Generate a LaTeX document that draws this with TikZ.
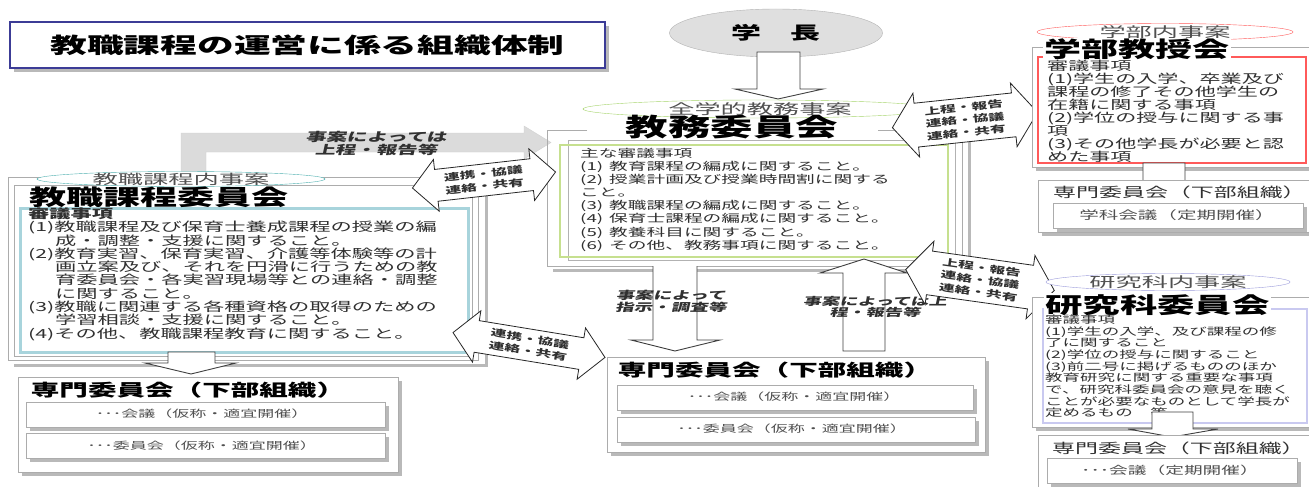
\documentclass[tikz,border=0pt]{standalone}
\usepackage{fontspec}
\usepackage{graphicx}
\usetikzlibrary{shapes.geometric,shadows}
\newfontfamily\jp[FakeStretch=1.7]{Noto Sans CJK JP}
\newfontfamily\jpi[FakeStretch=1.7,FakeSlant=0.22]{Noto Sans CJK JP}
\newcommand\jpfs[2]{\fontsize{#1}{#2}\selectfont}
\newcommand\wide[1]{\scalebox{1.1}[1]{#1}}
\definecolor{navyc}{HTML}{3C3C96}
\definecolor{grnc}{HTML}{A5D46A}
\definecolor{grnlt}{HTML}{C6E08F}
\definecolor{tealc}{HTML}{4FB0B0}
\definecolor{bluelt}{HTML}{A8D4DC}
\definecolor{redc}{HTML}{FF5A5A}
\definecolor{lavc}{HTML}{9B9BDB}
\definecolor{lavlt}{HTML}{C9C9F0}
\definecolor{txtc}{HTML}{303030}
\definecolor{subc}{HTML}{505050}
\newcommand\dblarrow[7]{%
  \begin{scope}[shift={(#1,#2)},rotate=#3]
    \draw[darr] (-#4,0) -- (-#4+#7,-#6) -- (-#4+#7,-#5) -- (#4-#7,-#5) -- (#4-#7,-#6) -- (#4,0)
      -- (#4-#7,#6) -- (#4-#7,#5) -- (-#4+#7,#5) -- (-#4+#7,#6) -- cycle;
  \end{scope}}
\tikzset{
  sbox/.style={draw=gray!65, fill=white, line width=0.8pt,
    drop shadow={shadow xshift=3.5pt, shadow yshift=-3.5pt, fill=gray!55, opacity=1}},
  pframe/.style={draw=gray!65, line width=0.8pt},
  shbar/.style={draw=gray!55, line width=3pt},
  barr/.style={draw=black!75, fill=white, line width=0.9pt},
  darr/.style={draw=black!85, fill=white, line width=0.8pt},
  txt/.style={inner sep=0pt, text=txtc},
  body/.style={txt, align=left, anchor=north west},
  ital/.style={txt, align=center, font=\jpi\bfseries\jpfs{11}{12}},
  atxt/.style={txt, align=center, font=\jp\bfseries\jpfs{9.3}{12.5}},
  subtxt/.style={inner sep=0pt, text=subc},
  elab/.style={inner sep=0pt, text=subc, font=\jp\jpfs{14}{15}, yshift=-0.5pt},
  head/.style={inner sep=1pt, text=black, font=\jp\bfseries\jpfs{21.8}{24}},
}
\begin{document}
\begin{tikzpicture}[x=1pt,y=-1pt]
\fill[white] (0,0) rectangle (1309,487);
\useasboundingbox (0,0) rectangle (1309,487);

% title
\node[draw=navyc, line width=1.3pt, fill=white,
  drop shadow={shadow xshift=4pt, shadow yshift=-4pt, fill=gray!55, opacity=1},
  minimum width=595pt, minimum height=46pt, inner sep=0pt,
  font=\jp\bfseries\jpfs{21.6}{24}] (title) at (307.5,45) {教職課程の運営に係る組織体制};

% president
\node[ellipse, draw=gray!60, fill=gray!25, minimum width=213pt, minimum height=48pt, inner sep=0pt,
  font=\jp\bfseries\jpfs{17.6}{20}] (pres) at (776,33) {学　長};
\draw[barr] (757,52) -- (800,52) -- (800,89) -- (823,89) -- (778,99) -- (735,89) -- (757,89) -- cycle;

% gray L arrow
\draw[draw=gray!35, fill=gray!28] (181,172) -- (181,133) -- (524,133) -- (524,126) -- (551,142.5)
  -- (524,159) -- (524,152) -- (206,152) -- (206,172) -- cycle;
\node[ital, font=\jpi\bfseries\jpfs{12}{13}] (lgl) at (376,143) {事案によっては\\上程・報告等};

% ===== centre committee =====
\node[ellipse, draw=grnc, fill=white, minimum width=354pt, minimum height=18pt, inner sep=0pt] (zen) at (760,109) {};
\node[elab] (zent) at (zen) {\wide{全学的教務事案}};
\draw[shbar] (969,136) -- (969,270) -- (553,270);
\draw[pframe] (587,130) -- (547,130) -- (547,266) -- (962,266) -- (962,130) -- (878,130);
\draw[draw=gray!60, line width=0.8pt, fill=white] (568,140) rectangle (955,260);
\draw[draw=grnlt, line width=2.5pt] (560,145) rectangle (948,257);
\node[txt, text=black, font=\jp\bfseries\jpfs{25}{27}] (kyomu) at (732,127) {教務委員会};
\node[body, font=\jp\jpfs{11}{13.1}] (kbody) at (580,148) {主な審議事項\\(1)\hspace{6pt}教育課程の編成に関すること。\\(2)\hspace{6pt}授業計画及び授業時間割に関する\\こと。\\(3)\hspace{6pt}教職課程の編成に関すること。\\(4)\hspace{6pt}保育士課程の編成に関すること。\\(5)\hspace{6pt}教養科目に関すること。\\(6)\hspace{6pt}その他、教務事項に関すること。};

% centre down / up arrows
\draw[barr] (653,266) -- (653,340) -- (631,340) -- (675,351) -- (720,340) -- (697,340) -- (697,266);
\node[ital, font=\jpi\bfseries\jpfs{10.9}{12}] (dlab) at (671,301) {事案によって\\指示・調査等};
\draw[barr] (843,351) -- (885,351) -- (885,273) -- (907,273) -- (864,259) -- (820,273) -- (843,273) -- cycle;
\node[ital, font=\jpi\bfseries\jpfs{10.7}{11.5}] (ulab) at (875,307) {事案によっては上\\程・報告等};

% centre bottom sub-committee
\draw[sbox] (607,357) rectangle (985,452);
\node[txt, text=black, font=\jp\bfseries\jpfs{16.8}{18}] (csub) at (775,370) {専門委員会（下部組織）};
\draw[sbox] (617,385) rectangle (973,410);
\node[subtxt, font=\jp\jpfs{10}{11}] (cs1) at (794,397) {･･･会議（仮称・適宜開催）};
\draw[sbox] (617,417) rectangle (975,442);
\node[subtxt, font=\jp\jpfs{10}{11}] (cs2) at (792,429) {･･･委員会（仮称・適宜開催）};

% ===== left committee =====
\draw[shbar] (486,183) -- (486,365) -- (14,365);
\draw[pframe, fill=white] (8,177) rectangle (478,360);
\draw[pframe] (14,185) rectangle (472,356);
\draw[draw=bluelt, line width=3pt] (20,208) rectangle (468,352);
\node[ellipse, draw=tealc, fill=white, minimum width=288pt, minimum height=15pt, inner sep=0pt] (kel) at (181,179) {};
\node[elab, font=\jp\jpfs{13.5}{15}] (kelt) at (kel) {\wide{教職課程内事案}};
\node[head] (kyoshoku) at (159,197) {教職課程委員会};
\node[body, font=\jp\jpfs{12.5}{13.3}] (lbody) at (28,207.5) {{\bfseries 審議事項}\\(1)教職課程及び保育士養成課程の授業の編\\\hspace*{27pt}成・調整・支援に関すること。\\(2)教育実習、保育実習、介護等体験等の計\\\hspace*{27pt}画立案及び、それを円滑に行うための教\\\hspace*{27pt}育委員会・各実習現場等との連絡・調整\\\hspace*{27pt}に関すること。\\(3)教職に関連する各種資格の取得のための\\\hspace*{27pt}学習相談・支援に関すること。\\(4)その他、教職課程教育に関すること。};

% left down arrow + sub-committee
\draw[barr] (168,352) -- (215,352) -- (215,363) -- (236,363) -- (191,374) -- (145,363) -- (168,363) -- cycle;
\draw[sbox] (18,377) rectangle (398,472);
\node[txt, text=black, font=\jp\bfseries\jpfs{16.8}{18}] (lsub) at (188,390) {専門委員会（下部組織）};
\draw[sbox] (26,402) rectangle (385,427);
\node[subtxt, font=\jp\jpfs{10}{11}] (ls1) at (202,414) {･･･会議（仮称・適宜開催）};
\draw[sbox] (26,433) rectangle (385,458);
\node[subtxt, font=\jp\jpfs{10}{11}] (ls2) at (202,446) {･･･委員会（仮称・適宜開催）};

% double arrows left
\dblarrow{484}{180}{6.4}{72}{16}{26}{24}
\node[atxt, rotate=6.4] (da1) at (484,180) {連携・協議\\連絡・共有};
\dblarrow{529}{345}{-9.3}{77}{16}{26}{24}
\node[atxt, rotate=-9.3] (da2) at (529,345) {連携・協議\\連絡・共有};

% double arrows right
\dblarrow{965}{120}{6}{73}{22}{32}{24}
\node[atxt, rotate=6] (da3) at (965,120) {上程・報告\\連絡・協議\\連絡・共有};
\dblarrow{980}{280}{-8}{75}{22}{32}{24}
\node[atxt, rotate=-8] (da4) at (980,280) {上程・報告\\連絡・協議\\連絡・共有};

% ===== faculty council (top right) =====
\node[ellipse, draw=redc, fill=white, minimum width=256pt, minimum height=17pt, inner sep=0pt] (gel) at (1165,32) {};
\node[elab] (gelt) at (gel) {\wide{学部内事案}};
\draw[sbox] (1032,47) rectangle (1314,167);
\draw[draw=redc, line width=1.8pt] (1038,57) rectangle (1306,163);
\node[head, fill=white] (gakubu) at (1137,49) {学部教授会};
\node[body, font=\jp\jpfs{12.4}{12.9}] (gbody) at (1047,59.5) {審議事項\\(1)学生の入学、卒業及び\\課程の修了その他学生の\\在籍に関する事項\\(2)学位の授与に関する事\\項\\(3)その他学長が必要と認\\めた事項};
\draw[barr] (1143,163) -- (1185,163) -- (1185,181) -- (1210,181) -- (1165,190) -- (1120,181) -- (1143,181) -- cycle;
\draw[sbox] (1038,180) rectangle (1316,232);
\node[txt, anchor=west, font=\jp\jpfs{13.5}{15}] (gsub) at (1053,192) {専門委員会（下部組織）};
\draw[sbox] (1053,203) rectangle (1303,228);
\node[subtxt, font=\jp\jpfs{11.5}{12}] (gs1) at (1177,215) {学科会議（定期開催）};

% ===== graduate school council (bottom right) =====
\node[ellipse, draw=lavc, fill=white, minimum width=244pt, minimum height=17pt, inner sep=0pt] (rel) at (1168,282) {};
\node[elab] (relt) at (rel) {\wide{研究科内事案}};
\draw[sbox] (1032,297) rectangle (1316,427);
\draw[draw=lavlt, line width=2pt] (1043,309) rectangle (1307,423);
\node[head, fill=white, anchor=west, font=\jp\bfseries\jpfs{22}{24}] (kenkyu) at (1044,305) {研究科委員会};
\node[body, font=\jp\jpfs{10.3}{11.7}] (rbody) at (1045,314.5) {審議事項\\(1)学生の入学、及び課程の修\\了に関すること\\(2)学位の授与に関すること\\(3)前二号に掲げるもののほか\\教育研究に関する重要な事項\\で、研究科委員会の意見を聴く\\ことが必要なものとして学長が\\定めるもの　等};
\draw[barr] (1152,412) -- (1193,412) -- (1193,429) -- (1218,429) -- (1172,437) -- (1128,429) -- (1152,429) -- cycle;
\draw[sbox] (1038,435) rectangle (1316,495);
\node[txt, anchor=west, font=\jp\jpfs{13.5}{15}] (rsub) at (1052,448) {専門委員会（下部組織）};
\draw[sbox] (1047,458) rectangle (1297,483);
\node[subtxt, font=\jp\jpfs{11}{12}] (rs1) at (1170,470) {･･･会議（定期開催）};
\end{tikzpicture}
\end{document}
